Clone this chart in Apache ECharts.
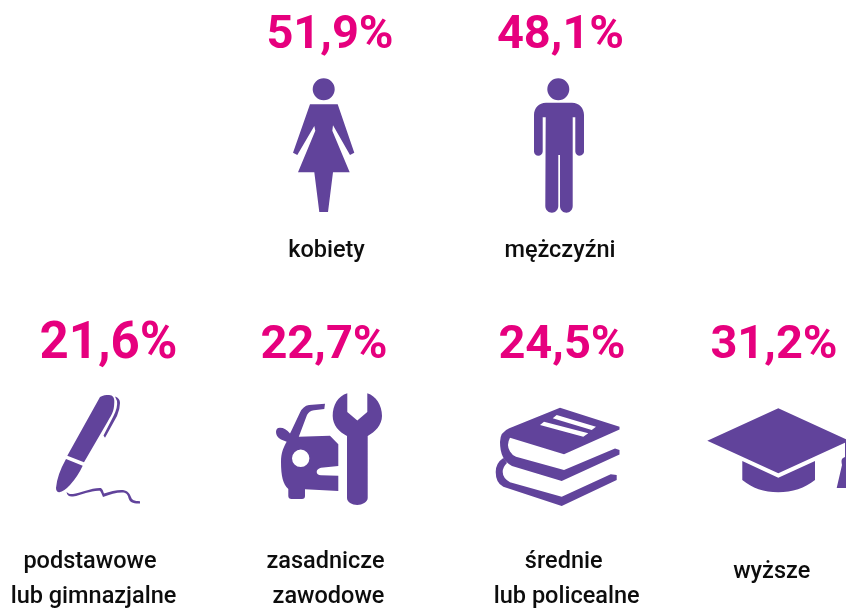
<!DOCTYPE html>
<html>
<head>
<meta charset="utf-8">
<title>Struktura</title>
<script src="https://cdn.jsdelivr.net/npm/echarts@6/dist/echarts.min.js"></script>
<style>
  html, body { margin: 0; padding: 0; background: #fff; overflow: hidden; }
  #chart { width: 846px; height: 610px; }
</style>
</head>
<body>
<div id="chart"></div>
<script>
// values
var genderShares = [51.9, 48.1];
var educationShares = [21.6, 22.7, 24.5, 31.2];
var genderLabels = ['kobiety', 'mężczyźni'];
var educationLabels = ['podstawowe', 'lub gimnazjalne', 'zasadnicze', 'zawodowe', 'średnie', 'lub policealne', 'wyższe'];

// layout, page pixels
var sharePositions = [[330, 36.5], [560.5, 36.5], [108.5, 345], [324, 346.5], [562, 346.5], [774, 346.5]];
var shareSizes = [47, 47, 51, 47, 47, 47];
var labelPositions = [[326.5, 251], [560, 251], [90, 562], [93.5, 597], [325.5, 562], [328.5, 597], [563.7, 562], [566.7, 597], [771.7, 572]];
var iconCenters = [[323.65, 145.15], [559, 145.5], [98, 449.25], [329, 449.15], [557.6, 456.85], [781.4, 450.3]];
var iconSizes = [[61.3, 133.7], [50, 134.4], [84, 108.5], [106, 111.7], [123.8, 98.3], [148.2, 84]];

// pictograms, outer shapes clockwise and holes the other way round
var iconPaths = [
  // kobieta
  'path://M312.7,89.3A11,11 0 1 1 334.7,89.3A11,11 0 1 1 312.7,89.3Z' +
    'M310,104.3L337.7,104.3L354.3,152.7L350,155L333,125.3L332.3,130.7L349.7,172.3L333,172.3L328,212L319.3,212L314.3,172.3L298,172.3L315.3,130.7L314.3,126L297.3,155L293,152.7Z',
  // mezczyzna
  'path://M547.3,89.3A11,11 0 1 1 569.3,89.3A11,11 0 1 1 547.3,89.3Z' +
    'M546,102.7L572,102.7C579,102.7 584,108 584,115L584,151.5C584,154 581.5,155.7 579.5,155.7C577.5,155.7 575.3,154 575.3,151.5L575.3,117.3L572.7,117.3L572.7,206C572.7,210 569.5,212.7 566.5,212.7C563,212.7 560,210 560,206L560,155L558.3,155L558.3,206C558.3,210 555,212.7 552,212.7C548.5,212.7 545.3,210 545.3,206L545.7,117.3L542.7,117.3L542.7,151.5C542.7,154 540.5,155.7 538.4,155.7C536,155.7 534,154 534,151.5L534,115C534,108 539,102.7 546,102.7Z',
  // pioro
  'path://M100,397C103,395.3 106,395 109,395C113,395 114.5,398 114.3,402C114,412 112,414 108,421L84,462.3L67.3,455.7Z' +
    'M115,396.5Q120,398 120,403Q120,409 117,416L105,437.7L103.5,435.5L113.5,416Q118,407 117,401Z' +
    'M66,459L82.7,465.7Q78,476 70,485Q64,491.5 59.3,492.3Q56,492 56,488Q57,475 66,459Z' +
    'M66.5,492C68,493.5 70,494.5 73,494C80,493 92,487.5 101,488Q103.5,490 104,493.5C110,491.5 118,489.5 123,490C128,491 130,494 131,497C132,500 134,501 140,501.2L140,503.5C133,503.8 129.5,502 128.5,498C127.5,494 126,492.5 122,492.5C116,492.5 110,494.5 103,497Q101.5,493 100,490.8C92,490 82,495 73,496.5C69.5,497 67,495.5 66.5,492Z',
  // samochod i klucz
  'path://M325,403.8L324.3,409L314,410.3Q309,411 307,415L298.8,436.7L330,435.7L338.3,444.3L338.3,466L321,467.8Q316.7,469 316.7,472Q316.7,475 321,475.2L338.3,475.7L338.3,491L305,489.3L305,496C305,498 304,499 302,499L291.5,499C289.5,499 288.3,498 288.3,496L288.3,489C283,484 281,476 281,462C281,453 283.5,447 286.7,441.7L281,439.5Q276,437 276,432Q276,427.7 280,427.7Q285.5,427.7 290,433.5L291.5,430.5L300,412.5Q303,406 309,405Z' +
    'M292,458.3A8.7,8.7 0 1 0 309.4,458.3A8.7,8.7 0 1 0 292,458.3Z' +
    'M347.3,393.3L347.3,412L357.3,420.5L367.3,412L367.3,393.3C376,396 382,405 382,416C382,425 375,432 367.7,436L367.7,498C367.7,502 362,505 357.3,505C352,505 347,502 347,498L347,436C339,432 332.7,425 332.7,416C332.7,405 338,396 347.3,393.3Z',
  // ksiazki
  'path://M560,407.7L619.5,426.7L619.5,429.5L564,454.3L510,437.7Q506,445 510,451.5Q512,455 516,456.7L564,470L615,448.5L619.5,450L619.5,454.5L561.7,481L512,466Q500,460 500,442Q500,432 509.3,428.3Z' +
    'M552.7,418.3L591.7,430L596,426.7L556.7,415Z' +
    'M540,425L583.3,436.7L588.3,433.3L544,421.7Z' +
    'M503.3,458Q495.7,463 495.7,472Q495.7,483 503.3,486.7L561.7,506L616.7,480L616.7,475L610.7,474.3L561.7,496.7L510,482.3Q502.7,478 502.7,472Q502.7,467 507,463Z',
  // biret
  'path://M778.3,408.3L849.3,440.7L778.3,473.3L707.3,440.7Z' +
    'M742.3,461L778.3,477.7L815,461L815,480C805,488 792,492.3 778.3,492.3C764,492.3 752,488 742.3,480Z' +
    'M845,441L847,441L847,457Q850.5,458 850.5,461Q850.5,463.5 850,465L855.5,488L836.7,488L842,465Q841.5,463 841.5,461Q841.5,458 845,457Z'
];

function toPolish(v) {
  return v.toFixed(1).replace('.', ',') + '%';
}

var allShares = genderShares.concat(educationShares);
var allLabels = genderLabels.concat(educationLabels);

var chart = echarts.init(document.getElementById('chart'));
chart.setOption({
  animation : false,
  backgroundColor : '#ffffff',
  grid : { left : 0, right : 0, top : 0, bottom : 0 },
  xAxis : { type : 'value', min : 0, max : 846, show : false },
  yAxis : { type : 'value', min : 0, max : 610, inverse : true, show : false },
  series : [{
    name : 'ikony',
    type : 'scatter',
    silent : true,
    clip : false,
    itemStyle : { color : '#61439b', opacity : 1 },
    data : iconPaths.map(function(path, i) {
      return { value : iconCenters[i], symbol : path, symbolSize : iconSizes[i] };
    })
  }, {
    name : 'udzial',
    type : 'scatter',
    silent : true,
    clip : false,
    symbolSize : 1,
    itemStyle : { color : 'transparent', opacity : 1 },
    data : allShares.map(function(v, i) {
      return {
        value : sharePositions[i],
        label : {
          show : true,
          position : 'inside',
          formatter : toPolish(v),
          fontFamily : 'Roboto',
          fontWeight : 700,
          fontSize : shareSizes[i],
          color : '#e6007e'
        }
      };
    })
  }, {
    name : 'opisy',
    type : 'scatter',
    silent : true,
    clip : false,
    symbolSize : 1,
    itemStyle : { color : 'transparent', opacity : 1 },
    data : allLabels.map(function(text, i) {
      return {
        value : labelPositions[i],
        label : {
          show : true,
          position : 'inside',
          formatter : text,
          fontFamily : 'Roboto',
          fontWeight : 500,
          fontSize : 23.5,
          color : '#0d0d0d'
        }
      };
    })
  }]
});
</script>
</body>
</html>
